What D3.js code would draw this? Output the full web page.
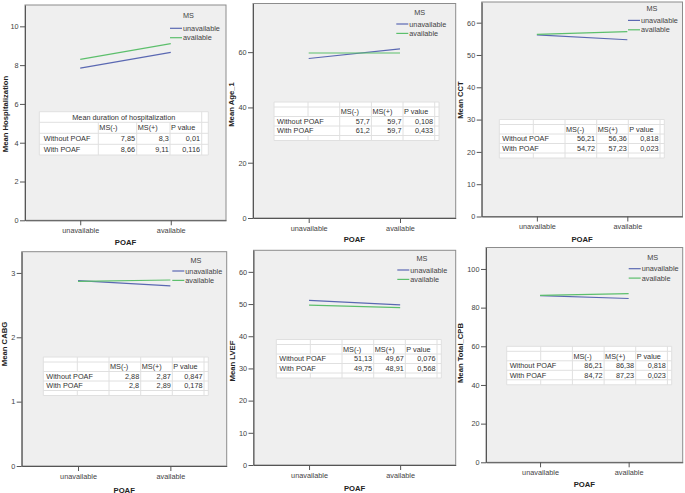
<!DOCTYPE html>
<html><head><meta charset="utf-8">
<script src="https://cdn.jsdelivr.net/npm/d3@7"></script>
<style>
body{margin:0;background:#fff;}
svg{display:block;font-family:"Liberation Sans",Arial,sans-serif;}
</style>
</head><body>
<svg id="c" width="685" height="493"></svg>
<script>
// ---------- DATA ----------
const poafCategories = ["unavailable", "available"];      // x axis (POAF)
const msSeries = ["unavailable", "available"];            // lines (MS)
const yTitles = ["Mean Hospitalization", "Mean Age_1", "Mean CCT", "Mean CABG", "Mean LVEF", "Mean Total_CPB"];
// means for MS(-) : [Without POAF, With POAF]
const msMinusMeans = [[7.85, 8.66], [57.7, 61.2], [56.21, 54.72], [2.88, 2.8], [51.13, 49.75], [86.21, 84.72]];
// means for MS(+) : [Without POAF, With POAF]
const msPlusMeans = [[8.3, 9.11], [59.7, 59.7], [56.36, 57.23], [2.87, 2.89], [49.67, 48.91], [86.38, 87.23]];
// p values : [Without POAF, With POAF]
const pValues = [[0.01, 0.116], [0.108, 0.433], [0.818, 0.023], [0.847, 0.178], [0.076, 0.568], [0.818, 0.023]];
const yTickValues = [[0, 2, 4, 6, 8, 10], [0, 20, 40, 60], [0, 10, 20, 30, 40, 50, 60], [0, 1, 2, 3], [0, 10, 20, 30, 40, 50, 60], [0, 20, 40, 60, 80, 100]];
const yDomainMax = [11.1, 77.6, 66.4, 3.33, 66.7, 111.1];
const tableTitles = ["Mean duration of hospitalization", "", "", "", "", ""];
const rowLabels = ["Without POAF", "With POAF"];
const colHeaders = ["MS(-)", "MS(+)", "P value"];
const legendTitle = "MS";
const xTitle = "POAF";

// ---------- LAYOUT ----------
const layout = [
  {l: 25, t: 5, r: 226, b: 220.3, yl: [5, 114], xl: 242.3, leg: [170, 188.5, 15.7, 28.3], tab: {x: 39.3, y: 111.7, titled: true}},
  {l: 253, t: 3.5, r: 455.7, b: 218, yl: [231.7, 104.5], xl: 239.3, leg: [396.3, 419.7, 12.7, 24], tab: {x: 274, y: 102}},
  {l: 481.7, t: 2, r: 682.5, b: 216.5, yl: [460, 100], xl: 239.3, leg: [628, 652, 8, 20.4], tab: {x: 499.3, y: 119.5}},
  {l: 21.7, t: 251.7, r: 226.7, b: 466, yl: [4.5, 344], xl: 490, leg: [172.3, 196, 260, 271], tab: {x: 43.3, y: 357}},
  {l: 253.5, t: 250.3, r: 455.7, b: 465, yl: [232, 361], xl: 488.3, leg: [397.3, 422, 258.3, 270], tab: {x: 276.3, y: 339.5}},
  {l: 486, t: 247.5, r: 682.7, b: 462.3, yl: [460.5, 353], xl: 484.3, leg: [628.7, 652.7, 257.3, 268.7], tab: {x: 506.7, y: 346.3}}
];
const colors = ["#5a68b2", "#5cbf6c"];
const fmt = v => String(v).replace(".", ",");
const FS = 7.3;

const svg = d3.select("#c");

layout.forEach((L, k) => {
  const g = svg.append("g");
  const x = d3.scalePoint().domain(poafCategories).range([L.l, L.r]).padding(0.61);
  const y = d3.scaleLinear().domain([0, yDomainMax[k]]).range([L.b, L.t]);

  // frame
  g.append("rect").attr("x", L.l).attr("y", L.t).attr("width", L.r - L.l).attr("height", L.b - L.t)
    .attr("fill", "#efefef").attr("stroke", "#8c8c8c").attr("stroke-width", 1);

  // axes
  const ya = g.append("g").attr("transform", `translate(${L.l},0)`)
    .call(d3.axisLeft(y).tickValues(yTickValues[k]).tickSize(5).tickSizeOuter(0).tickPadding(1.5).tickFormat(d3.format("d")));
  const xa = g.append("g").attr("transform", `translate(0,${L.b})`)
    .call(d3.axisBottom(x).tickSize(5).tickSizeOuter(0).tickPadding(2.5));
  [ya, xa].forEach(a => {
    a.select(".domain").attr("stroke", "#555");
    a.selectAll(".tick line").attr("stroke", "#555");
    a.selectAll(".tick text").attr("fill", "#444").style("font-size", FS + "px").style("font-family", "Liberation Sans, Arial, sans-serif");
  });

  // axis titles
  g.append("text").attr("transform", `translate(${L.yl[0]},${L.yl[1]}) rotate(-90)`)
    .attr("text-anchor", "middle").attr("dominant-baseline", "central")
    .attr("font-weight", "bold").attr("font-size", 7.7).attr("fill", "#222").text(yTitles[k]);
  g.append("text").attr("x", (L.l + L.r) / 2).attr("y", L.xl)
    .attr("text-anchor", "middle").attr("dominant-baseline", "central")
    .attr("font-weight", "bold").attr("font-size", 7.7).attr("fill", "#222").text(xTitle);

  // lines
  const line = d3.line().x((d, i) => x(poafCategories[i])).y(d => y(d));
  [msMinusMeans[k], msPlusMeans[k]].forEach((vals, s) => {
    g.append("path").datum(vals).attr("d", line).attr("fill", "none")
      .attr("stroke", colors[s]).attr("stroke-width", 1.2);
  });

  // legend
  const [lx, msx, my, ly] = L.leg;
  g.append("text").attr("x", msx).attr("y", my).attr("text-anchor", "middle").attr("dominant-baseline", "central")
    .attr("font-size", FS).attr("fill", "#444").text(legendTitle);
  msSeries.forEach((name, s) => {
    const yy = ly + s * 9.4;
    g.append("line").attr("x1", lx).attr("x2", lx + 12).attr("y1", yy).attr("y2", yy)
      .attr("stroke", colors[s]).attr("stroke-width", 1.2);
    g.append("text").attr("x", lx + 13).attr("y", yy).attr("dominant-baseline", "central")
      .attr("font-size", FS).attr("fill", "#444").text(name);
  });

  // table
  const T = L.tab;
  const tg = g.append("g");
  const grid = "#e0e0e0";
  const txt = (xx, yy, s, anchor) => tg.append("text").attr("x", xx).attr("y", yy)
    .attr("text-anchor", anchor).attr("dominant-baseline", "central")
    .attr("font-size", FS).attr("fill", "#333").text(s);
  const hl = (x1, x2, yy) => tg.append("line").attr("x1", x1).attr("x2", x2).attr("y1", yy).attr("y2", yy).attr("stroke", grid).attr("stroke-width", 1);
  const vl = (xx, y1, y2) => tg.append("line").attr("x1", xx).attr("x2", xx).attr("y1", y1).attr("y2", y2).attr("stroke", grid).attr("stroke-width", 1);

  if (T.titled) {
    const cb = [0, 59, 97.4, 130.7, 162.4, 169].map(v => T.x + v);
    const rb = [0, 10.6, 21.6, 32.6, 43.3].map(v => T.y + v);
    tg.append("rect").attr("x", cb[0]).attr("y", rb[0]).attr("width", cb[5] - cb[0]).attr("height", rb[4] - rb[0]).attr("fill", "#fff");
    rb.forEach(r => hl(cb[0], cb[5], r));
    vl(cb[0], rb[0], rb[4]); vl(cb[5], rb[0], rb[4]); vl(cb[4], rb[0], rb[4]);
    [1, 2, 3].forEach(c => vl(cb[c], rb[1], rb[4]));
    txt((cb[0] + cb[5]) / 2, (rb[0] + rb[1]) / 2, tableTitles[k], "middle");
    colHeaders.forEach((h, c) => txt(cb[c + 1] + 1, (rb[1] + rb[2]) / 2, h, "start"));
    rowLabels.forEach((lab, r) => {
      const yy = (rb[r + 2] + rb[r + 3]) / 2;
      txt(cb[0] + 4.5, yy, lab, "start");
      txt(cb[2] - 1.7, yy, fmt(msMinusMeans[k][r]), "end");
      txt(cb[3] - 1.2, yy, fmt(msPlusMeans[k][r]), "end");
      txt(cb[4] - 1.7, yy, fmt(pValues[k][r]), "end");
    });
  } else {
    const cb = [0, 34, 65.7, 97.4, 129, 160.7, 165].map(v => T.x + v);
    const rb = [0, 5, 14.5, 24, 33.5, 38.5].map(v => T.y + v);
    tg.append("rect").attr("x", cb[0]).attr("y", rb[0]).attr("width", cb[6] - cb[0]).attr("height", rb[5] - rb[0]).attr("fill", "#fff");
    rb.forEach(r => hl(cb[0], cb[6], r));
    [0, 2, 3, 4, 5, 6].forEach(c => vl(cb[c], rb[0], rb[5]));
    vl(cb[1], rb[0], rb[2]); vl(cb[1], rb[4], rb[5]);
    colHeaders.forEach((h, c) => txt(cb[c + 2] + 1, (rb[1] + rb[2]) / 2, h, "start"));
    rowLabels.forEach((lab, r) => {
      const yy = (rb[r + 2] + rb[r + 3]) / 2;
      txt(cb[0] + 3, yy, lab, "start");
      txt(cb[3] - 1.5, yy, fmt(msMinusMeans[k][r]), "end");
      txt(cb[4] - 1.5, yy, fmt(msPlusMeans[k][r]), "end");
      txt(cb[5] - 1.5, yy, fmt(pValues[k][r]), "end");
    });
  }
});
</script>
</body></html>
